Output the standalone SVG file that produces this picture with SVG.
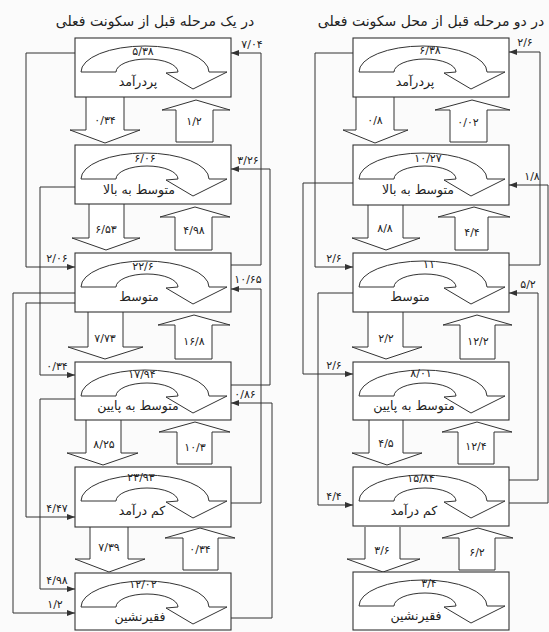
<svg xmlns="http://www.w3.org/2000/svg" xmlns:xlink="http://www.w3.org/1999/xlink" width="549" height="632" viewBox="0 0 549 632">
<defs>
<style>
.bg{fill:#fbfbfb}
.box{fill:#fff;stroke:#333;stroke-width:1.1}
.u{fill:#fff;stroke:#333;stroke-width:1}
.blk{fill:#fff;stroke:#333;stroke-width:1}
.ln{fill:none;stroke:#333;stroke-width:1;marker-end:url(#ah)}
text{font-family:"DejaVu Sans",sans-serif;fill:#222;text-anchor:middle}
.num{font-size:11px}
.lab{font-size:12.5px}
.t{font-size:14px}
.cl{font-size:11px}
</style>
<marker id="ah" viewBox="0 0 8 6" refX="8" refY="3" markerWidth="8" markerHeight="6" markerUnits="userSpaceOnUse" orient="auto">
<path d="M0,0 L8,3 L0,6 Z" fill="#333"/>
</marker>
<path id="u" class="u" d="M6,34 A64 26 0 0 1 134,34 L152,34 L118,51 L91,35 L103,34 A31 13 0 0 0 41,34 Z"/>
</defs>
<rect class="bg" x="0" y="0" width="549" height="632"/>

<text class="t" x="155" y="26">در یک مرحله قبل از سکونت فعلی</text>
<text class="t" x="431" y="26">در دو مرحله قبل از محل سکونت فعلی</text>

<g id="connectors">
<!-- left panel lines -->
<path class="ln" d="M75,53 H26 V267 H75"/>
<path class="ln" d="M75,187 H40 V375 H75"/>
<path class="ln" d="M75,293 H13 V613 H75"/>
<path class="ln" d="M75,303 H26 V517 H75"/>
<path class="ln" d="M75,399 H40 V589 H75"/>
<path class="ln" d="M231,265 H261 V53 H231"/>
<path class="ln" d="M231,385 H270 V169 H231"/>
<path class="ln" d="M231,503 H261 V289 H231"/>
<path class="ln" d="M231,618 H272 V403 H231"/>
<text class="cl" x="57" y="262">۲/۰۶</text>
<text class="cl" x="57" y="370">۰/۳۴</text>
<text class="cl" x="57" y="512">۴/۴۷</text>
<text class="cl" x="57" y="584">۴/۹۸</text>
<text class="cl" x="55" y="608">۱/۲</text>
<text class="cl" x="252" y="48">۷/۰۴</text>
<text class="cl" x="248" y="164">۳/۲۶</text>
<text class="cl" x="248" y="283">۱۰/۶۵</text>
<text class="cl" x="245" y="398">۰/۸۶</text>
<!-- right panel lines -->
<path class="ln" d="M353,53 H315 V267 H353"/>
<path class="ln" d="M353,183 H303 V374 H353"/>
<path class="ln" d="M353,293 H318 V505 H353"/>
<path class="ln" d="M509,265 H540 V52 H509"/>
<path class="ln" d="M509,503 H548 V185 H509"/>
<path class="ln" d="M509,480 H538 V293 H509"/>
<text class="cl" x="334" y="262">۲/۶</text>
<text class="cl" x="334" y="369">۲/۶</text>
<text class="cl" x="334" y="500">۴/۴</text>
<text class="cl" x="525" y="46">۲/۶</text>
<text class="cl" x="532" y="180">۱/۸</text>
<text class="cl" x="528" y="288">۵/۲</text>

<!-- left panel block arrows -->
<path class="blk" d="M86,97 V130 H70 L105,143 L140,130 H124 V97"/>
<path class="blk" d="M176,142 V110 H162 L196,100 L230,110 H213 V142 Z"/>
<text class="cl" x="105" y="124">۰/۳۴</text>
<text class="cl" x="194" y="125">۱/۲</text>

<path class="blk" d="M89,204 V238 H72 L106,250 L140,238 H124 V204"/>
<path class="blk" d="M175,250 V217 H160 L195,207 L230,217 H212 V250 Z"/>
<text class="cl" x="106" y="233">۶/۵۳</text>
<text class="cl" x="194" y="234">۴/۹۸</text>

<path class="blk" d="M88,312 V347 H68 L105,359 L143,347 H123 V312"/>
<path class="blk" d="M175,359 V325 H158 L194,315 L230,325 H212 V359 Z"/>
<text class="cl" x="105" y="342">۷/۷۳</text>
<text class="cl" x="194" y="345">۱۶/۸</text>

<path class="blk" d="M86,420 V453 H67 L103,465 L138,453 H121 V420"/>
<path class="blk" d="M177,464 V432 H159 L195,422 L230,432 H212 V464 Z"/>
<text class="cl" x="104" y="448">۸/۲۵</text>
<text class="cl" x="195" y="451">۱۰/۳</text>

<path class="blk" d="M90,527 V559 H75 L109,572 L145,559 H128 V527"/>
<path class="blk" d="M183,570 V538 H165 L200,528 L235,538 H218 V570 Z"/>
<text class="cl" x="109" y="551">۷/۳۹</text>
<text class="cl" x="200" y="553">۰/۳۴</text>

<!-- right panel block arrows -->
<path class="blk" d="M356,97 V130 H343 L375,143 L408,130 H394 V97"/>
<path class="blk" d="M450,142 V110 H435 L472,100 L510,110 H487 V142 Z"/>
<text class="cl" x="375" y="124">۰/۸</text>
<text class="cl" x="468" y="126">۰/۰۲</text>

<path class="blk" d="M368,204 V238 H352 L386,250 L420,238 H403 V204"/>
<path class="blk" d="M455,250 V217 H438 L474,207 L510,217 H488 V250 Z"/>
<text class="cl" x="385" y="232">۸/۸</text>
<text class="cl" x="472" y="236">۴/۴</text>

<path class="blk" d="M368,312 V347 H352 L386,359 L422,347 H403 V312"/>
<path class="blk" d="M460,359 V325 H443 L477,315 L512,325 H495 V359 Z"/>
<text class="cl" x="386" y="342">۲/۲</text>
<text class="cl" x="478" y="345">۱۲/۲</text>

<path class="blk" d="M369,420 V453 H352 L387,465 L422,453 H403 V420"/>
<path class="blk" d="M458,464 V432 H442 L477,422 L512,432 H494 V464 Z"/>
<text class="cl" x="386" y="447">۴/۵</text>
<text class="cl" x="476" y="450">۱۲/۴</text>

<path class="blk" d="M365,527 V559 H347 L383,572 L420,559 H400 V527"/>
<path class="blk" d="M459,570 V538 H442 L478,528 L513,538 H495 V570 Z"/>
<text class="cl" x="382" y="554">۳/۶</text>
<text class="cl" x="477" y="556">۶/۲</text>
</g>

<!-- left panel nodes -->
<g id="L1"><rect class="box" x="75" y="38" width="156" height="59"/><use xlink:href="#u" x="75" y="38"/><text class="num" x="143" y="55">۵/۳۸</text><text class="lab" x="138" y="86">پردرآمد</text></g>
<g id="L2"><rect class="box" x="75" y="145" width="156" height="59"/><use xlink:href="#u" x="75" y="145"/><text class="num" x="145" y="162">۶/۰۶</text><text class="lab" x="139" y="194">متوسط به بالا</text></g>
<g id="L3"><rect class="box" x="75" y="253" width="156" height="59"/><use xlink:href="#u" x="75" y="253"/><text class="num" x="143" y="270">۲۲/۶</text><text class="lab" x="139" y="301">متوسط</text></g>
<g id="L4"><rect class="box" x="75" y="362" width="156" height="58"/><use xlink:href="#u" x="75" y="362"/><text class="num" x="142" y="378">۱۷/۹۴</text><text class="lab" x="138" y="410">متوسط به پایین</text></g>
<g id="L5"><rect class="box" x="75" y="467" width="156" height="60"/><use xlink:href="#u" x="75" y="467"/><text class="num" x="141" y="481">۲۳/۹۳</text><text class="lab" x="142" y="515">کم درآمد</text></g>
<g id="L6"><rect class="box" x="75" y="573" width="156" height="57"/><use xlink:href="#u" x="75" y="573"/><text class="num" x="143" y="588">۱۲/۰۲</text><text class="lab" x="140" y="621">فقیرنشین</text></g>

<!-- right panel nodes -->
<g id="R1"><rect class="box" x="353" y="38" width="156" height="59"/><use xlink:href="#u" x="353" y="38"/><text class="num" x="430" y="54">۶/۳۸</text><text class="lab" x="415" y="86">پردرآمد</text></g>
<g id="R2"><rect class="box" x="353" y="145" width="156" height="60"/><use xlink:href="#u" x="353" y="145"/><text class="num" x="428" y="162">۱۰/۲۷</text><text class="lab" x="418" y="194">متوسط به بالا</text></g>
<g id="R3"><rect class="box" x="353" y="253" width="156" height="59"/><use xlink:href="#u" x="353" y="253"/><text class="num" x="429" y="268">۱۱</text><text class="lab" x="410" y="301">متوسط</text></g>
<g id="R4"><rect class="box" x="353" y="362" width="156" height="58"/><use xlink:href="#u" x="353" y="362"/><text class="num" x="421" y="377">۸/۰۱</text><text class="lab" x="414" y="410">متوسط به پایین</text></g>
<g id="R5"><rect class="box" x="353" y="467" width="156" height="59"/><use xlink:href="#u" x="353" y="467"/><text class="num" x="421" y="482">۱۵/۸۴</text><text class="lab" x="414" y="515">کم درآمد</text></g>
<g id="R6"><rect class="box" x="353" y="572" width="156" height="58"/><use xlink:href="#u" x="353" y="572"/><text class="num" x="429" y="587">۳/۴</text><text class="lab" x="416" y="620">فقیرنشین</text></g>
</svg>
